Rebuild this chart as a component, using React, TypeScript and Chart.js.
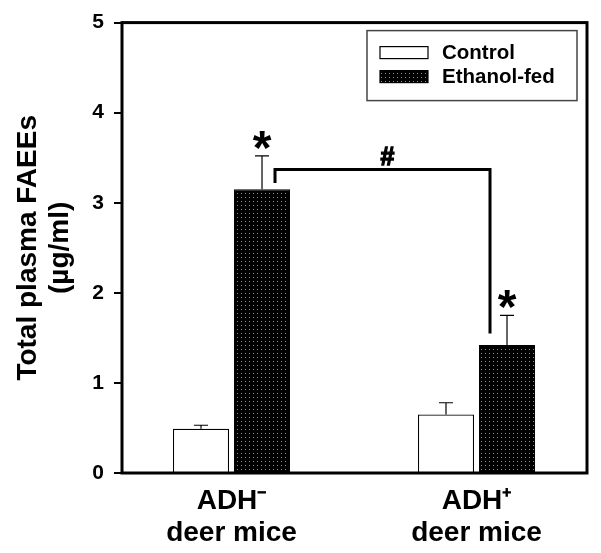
import React, { useEffect, useRef } from 'react';
import { Chart, registerables } from 'chart.js';

Chart.register(...registerables);

// ---- data ----
const categories: string[][] = [['ADH\u207B', 'deer mice'], ['ADH\u207A', 'deer mice']];
const seriesNames = ['Control', 'Ethanol-fed'];
const controlValues = [0.49, 0.65];
const controlErrors = [0.04, 0.13];
const ethanolValues = [3.15, 1.42];
const ethanolErrors = [0.37, 0.33];
const yTickValues = [0, 1, 2, 3, 4, 5];
const ethanolMarks = ['*', '*'];
// bracket between ethanol groups: [left end, top, right end] in y units
const bracketLevels = [3.22, 3.37, 1.55];
const bracketLabel = '#';
const yTitle = ['Total plasma FAEEs', '(\u00B5g/ml)'];

const FONT = "'Liberation Sans', Arial, Helvetica, sans-serif";

function makePattern(): CanvasPattern | string {
  const c = document.createElement('canvas');
  c.width = 4;
  c.height = 4;
  const g = c.getContext('2d');
  if (!g) return '#111';
  g.fillStyle = '#000';
  g.fillRect(0, 0, 4, 4);
  g.fillStyle = '#8e8e8e';
  g.fillRect(1, 1, 1, 1);
  const p = g.createPattern(c, 'repeat');
  return p || '#111';
}

export default function App() {
  const ref = useRef<HTMLCanvasElement | null>(null);

  useEffect(() => {
    document.body.style.margin = '0';
    const canvas = ref.current;
    if (!canvas) return;
    const pattern = makePattern();

    const overlay = {
      id: 'overlay',
      afterDatasetsDraw(chart: any) {
        const ctx: CanvasRenderingContext2D = chart.ctx;
        const area = chart.chartArea;
        const ys = chart.scales.y;
        const m0 = chart.getDatasetMeta(0);
        const m1 = chart.getDatasetMeta(1);
        ctx.save();

        // error bars
        const drawErr = (meta: any, vals: number[], errs: number[]) => {
          meta.data.forEach((bar: any, i: number) => {
            const yTop = ys.getPixelForValue(vals[i] + errs[i]);
            const yBar = ys.getPixelForValue(vals[i]);
            ctx.strokeStyle = '#000';
            ctx.lineWidth = 1.2;
            ctx.beginPath();
            ctx.moveTo(bar.x, yBar);
            ctx.lineTo(bar.x, yTop);
            ctx.moveTo(bar.x - 7, yTop);
            ctx.lineTo(bar.x + 7, yTop);
            ctx.stroke();
          });
        };
        drawErr(m0, controlValues, controlErrors);
        drawErr(m1, ethanolValues, ethanolErrors);

        // significance asterisks
        ctx.fillStyle = '#000';
        ctx.font = `bold 48px ${FONT}`;
        ctx.textAlign = 'center';
        ctx.textBaseline = 'alphabetic';
        m1.data.forEach((bar: any, i: number) => {
          const yTop = ys.getPixelForValue(ethanolValues[i] + ethanolErrors[i]);
          const cy = yTop - 16;
          const mt = ctx.measureText(ethanolMarks[i]);
          const off = (mt.actualBoundingBoxAscent - mt.actualBoundingBoxDescent) / 2;
          ctx.fillText(ethanolMarks[i], bar.x, cy + off);
        });

        // bracket
        const b0 = m1.data[0];
        const b1 = m1.data[1];
        const xl = b0.x + 13;
        const xr = b1.x - 17;
        const yl = ys.getPixelForValue(bracketLevels[0]);
        const yt = ys.getPixelForValue(bracketLevels[1]);
        const yr = ys.getPixelForValue(bracketLevels[2]);
        ctx.lineWidth = 3;
        ctx.lineJoin = 'miter';
        ctx.beginPath();
        ctx.moveTo(xl, yl);
        ctx.lineTo(xl, yt);
        ctx.lineTo(xr, yt);
        ctx.lineTo(xr, yr);
        ctx.stroke();
        ctx.font = `bold 25px ${FONT}`;
        const mh = ctx.measureText(bracketLabel);
        const offh = (mh.actualBoundingBoxAscent - mh.actualBoundingBoxDescent) / 2;
        const hx = (xl + xr) / 2 + 5;
        const hy = yt - 13 + offh;
        ctx.lineWidth = 1.3;
        ctx.strokeText(bracketLabel, hx, hy);
        ctx.fillText(bracketLabel, hx, hy);

        // frame
        ctx.lineWidth = 3;
        ctx.strokeStyle = '#000';
        ctx.strokeRect(area.left, area.top, area.right - area.left, area.bottom - area.top);

        // legend
        const lw = 210;
        const lh = 70;
        const lx = area.right - 10 - lw;
        const ly = area.top + 8;
        ctx.lineWidth = 1.5;
        ctx.strokeStyle = '#444';
        ctx.strokeRect(lx, ly, lw, lh);
        const fills = ['#fff', pattern];
        ctx.font = `bold 20.5px ${FONT}`;
        ctx.textAlign = 'left';
        ctx.textBaseline = 'middle';
        seriesNames.forEach((name, i) => {
          const sy = ly + 16 + i * 24;
          ctx.fillStyle = fills[i] as any;
          ctx.fillRect(lx + 13, sy, 48, 12);
          ctx.lineWidth = 1.2;
          ctx.strokeStyle = '#000';
          ctx.strokeRect(lx + 13, sy, 48, 12);
          ctx.fillStyle = '#000';
          ctx.fillText(name, lx + 75, sy + 6.5);
        });
        ctx.restore();
      },
    };

    const chart = new Chart(canvas, {
      type: 'bar',
      data: {
        datasets: [
          {
            label: seriesNames[0],
            data: controlValues.map((v, i) => ({ x: i + 1, y: v })),
            backgroundColor: '#fff',
            borderColor: '#000',
            borderWidth: 1.2,
            borderSkipped: 'bottom',
          },
          {
            label: seriesNames[1],
            data: ethanolValues.map((v, i) => ({ x: i + 1, y: v })),
            backgroundColor: pattern as any,
            borderColor: '#000',
            borderWidth: 1,
            borderSkipped: 'bottom',
          },
        ],
      },
      plugins: [overlay],
      options: {
        responsive: false,
        animation: false,
        categoryPercentage: 0.498,
        barPercentage: 0.918,
        layout: { padding: { left: 6, top: 21, right: 14, bottom: 0 } },
        plugins: { legend: { display: false }, tooltip: { enabled: false } },
        scales: {
          x: {
            type: 'linear',
            min: 0.553,
            max: 2.451,
            offset: false,
            afterBuildTicks: (s: any) => {
              s.ticks = categories.map((_, i) => ({ value: i + 1 }));
            },
            afterFit: (s: any) => {
              s.height = 80;
            },
            ticks: {
              autoSkip: false,
              maxRotation: 0,
              padding: 4,
              color: '#000',
              font: { family: FONT, size: 28, weight: 'bold', lineHeight: 1.15 },
              callback: (v: any) => categories[Math.round(Number(v)) - 1] ?? '',
            },
            grid: { display: false },
            border: { display: false },
          },
          y: {
            min: 0,
            max: 5,
            afterBuildTicks: (s: any) => {
              s.ticks = yTickValues.map((v) => ({ value: v }));
            },
            afterFit: (s: any) => {
              s.width = 116;
            },
            ticks: {
              padding: 10,
              color: '#000',
              font: { family: FONT, size: 21, weight: 'bold' },
            },
            grid: {
              drawOnChartArea: false,
              drawTicks: true,
              tickLength: 8,
              lineWidth: 2,
              color: '#000',
            },
            border: { display: false },
            title: {
              display: true,
              text: yTitle,
              color: '#000',
              font: { family: FONT, size: 28, weight: 'bold', lineHeight: 1.15 },
              padding: { top: 6, bottom: 4 },
            },
          },
        },
      } as any,
    });

    return () => chart.destroy();
  }, []);

  return <canvas ref={ref} width={601} height={553} style={{ display: 'block' }} />;
}
